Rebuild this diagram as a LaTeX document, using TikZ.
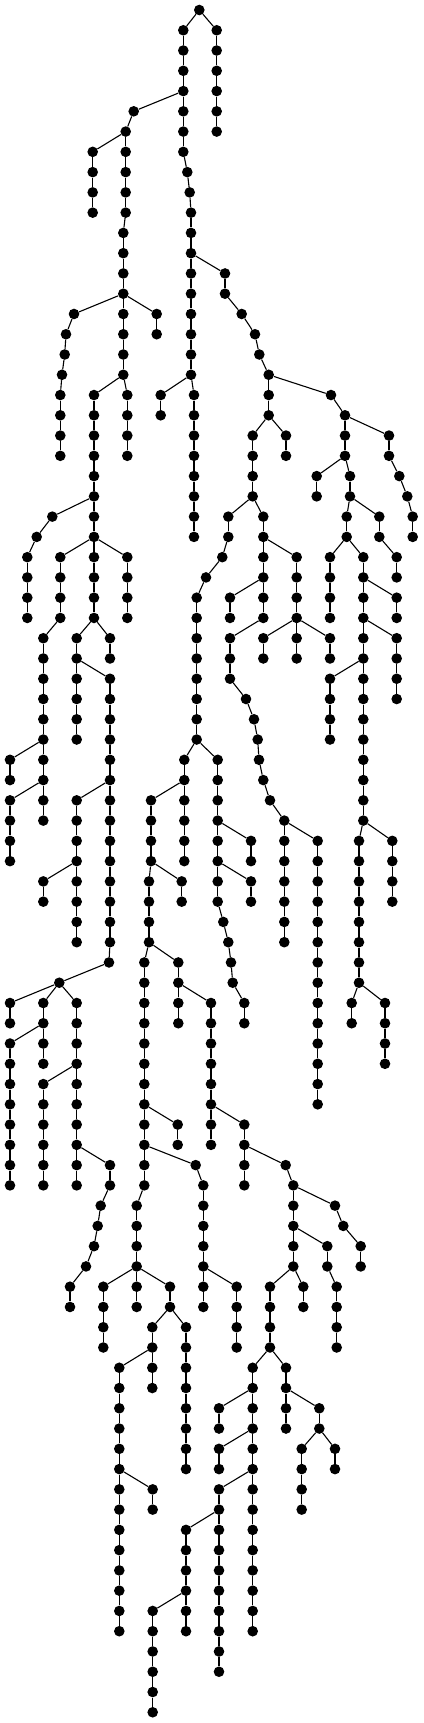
\documentclass[tikz,border=0pt]{standalone}
\usepackage{tikz}
\tikzset{
  v/.style={circle,fill=black,draw=none,minimum size=10.6pt,inner sep=0pt},
  e/.style={line width=1.1pt,black}
}
\newcommand\mychain[4]{%
  \foreach \r in {#3,...,#4}{\node[v] (#1-\r) at (#2,\r) {};}%
  \ifnum#3<#4\relax
    \pgfmathtruncatemacro\mylast{#4-1}%
    \foreach \r in {#3,...,\mylast}{\pgfmathtruncatemacro\mynext{\r+1}\draw[e] (#1-\r) -- (#1-\mynext);}%
  \fi}
\newcommand\myedge[2]{\draw[e] (#1) -- (#2);}
\begin{document}
\begin{tikzpicture}[x=1pt,y=-20.265pt]
\useasboundingbox (0,-0.4935) rectangle (423,84.53);
% top
\mychain{199}{199.3}{0}{0}
\mychain{217}{216.7}{1}{6}\myedge{199-0}{217-1}
\mychain{183}{183.3}{1}{7}\myedge{199-0}{183-1}
\mychain{134}{133.7}{5}{5}\myedge{183-4}{134-5}
\mychain{126}{125.7}{6}{10}\myedge{134-5}{126-6}
\mychain{93}{92.7}{7}{10}\myedge{126-6}{93-7}
\mychain{123}{123.3}{11}{18}\myedge{126-10}{123-11}
\mychain{187}{187.3}{8}{8}\myedge{183-7}{187-8}
\mychain{190}{189.7}{9}{9}\myedge{187-8}{190-9}
\mychain{191}{191}{10}{18}\myedge{190-9}{191-10}
\mychain{225}{225}{13}{14}\myedge{191-12}{225-13}
\mychain{74}{74}{15}{15}\myedge{123-14}{74-15}
\mychain{157}{156.7}{15}{16}\myedge{123-14}{157-15}
\mychain{66}{66}{16}{16}\myedge{74-15}{66-16}
\mychain{65}{64.7}{17}{17}\myedge{66-16}{65-17}
\mychain{62}{62}{18}{18}\myedge{65-17}{62-18}
\mychain{60}{60.3}{19}{22}\myedge{62-18}{60-19}
\mychain{94}{94}{19}{30}\myedge{123-18}{94-19}
\mychain{127}{127.3}{19}{22}\myedge{123-18}{127-19}
\mychain{161}{160.7}{19}{20}\myedge{191-18}{161-19}
\mychain{194}{194}{19}{26}\myedge{191-18}{194-19}
\mychain{242}{241.7}{15}{15}\myedge{225-14}{242-15}
\mychain{255}{255}{16}{16}\myedge{242-15}{255-16}
\mychain{259}{259.3}{17}{17}\myedge{255-16}{259-17}
\mychain{269}{268.7}{18}{20}\myedge{259-17}{269-18}
\mychain{331}{331}{19}{19}\myedge{269-18}{331-19}
\mychain{345}{345}{20}{22}\myedge{331-19}{345-20}
\mychain{253}{252.7}{21}{24}\myedge{269-20}{253-21}
\mychain{286}{286}{21}{22}\myedge{269-20}{286-21}
\mychain{389}{389}{21}{22}\myedge{345-20}{389-21}
\mychain{317}{316.7}{23}{24}\myedge{345-22}{317-23}
\mychain{350}{350}{23}{24}\myedge{345-22}{350-23}
\mychain{399}{399.3}{23}{23}\myedge{389-22}{399-23}
\mychain{407}{407.3}{24}{24}\myedge{399-23}{407-24}
\mychain{413}{412.7}{25}{26}\myedge{407-24}{413-25}
\mychain{52}{52.3}{25}{25}\myedge{94-24}{52-25}
\mychain{37}{36.7}{26}{26}\myedge{52-25}{37-26}
\mychain{27}{27.3}{27}{30}\myedge{37-26}{27-27}
\mychain{60}{60.3}{27}{30}\myedge{94-26}{60-27}
\mychain{127}{127.3}{27}{30}\myedge{94-26}{127-27}
\mychain{228}{228.3}{25}{26}\myedge{253-24}{228-25}
\mychain{263}{263.3}{25}{30}\myedge{253-24}{263-25}
\mychain{222}{222.3}{27}{27}\myedge{228-26}{222-27}
\mychain{206}{206}{28}{28}\myedge{222-27}{206-28}
\mychain{197}{196.7}{29}{36}\myedge{206-28}{197-29}
\mychain{297}{296.7}{27}{32}\myedge{263-26}{297-27}
\mychain{347}{346.7}{25}{26}\myedge{350-24}{347-25}
\mychain{379}{379.3}{25}{26}\myedge{350-24}{379-25}
\mychain{330}{330}{27}{30}\myedge{347-26}{330-27}
\mychain{363}{363.3}{27}{40}\myedge{347-26}{363-27}
\mychain{397}{396.7}{27}{28}\myedge{379-26}{397-27}
\mychain{397}{396.7}{29}{30}\myedge{363-28}{397-29}
\mychain{397}{396.7}{31}{34}\myedge{363-30}{397-31}
\mychain{230}{230}{29}{30}\myedge{263-28}{230-29}
\mychain{230}{230}{31}{33}\myedge{263-30}{230-31}
\mychain{263}{263.3}{31}{32}\myedge{297-30}{263-31}
\mychain{330}{330}{31}{32}\myedge{297-30}{330-31}
\mychain{330}{330}{33}{36}\myedge{363-32}{330-33}
\mychain{246}{246}{34}{34}\myedge{230-33}{246-34}
\mychain{254}{254}{35}{35}\myedge{246-34}{254-35}
\mychain{258}{257.7}{36}{36}\myedge{254-35}{258-36}
\mychain{259}{259}{37}{37}\myedge{258-36}{259-37}
\mychain{263}{263.3}{38}{38}\myedge{259-37}{263-38}
\mychain{270}{270}{39}{39}\myedge{263-38}{270-39}
\mychain{284}{284.3}{40}{46}\myedge{270-39}{284-40}
\mychain{318}{317.7}{41}{54}\myedge{284-40}{318-41}
\mychain{359}{359}{41}{48}\myedge{363-40}{359-41}
\mychain{392}{392.3}{41}{44}\myedge{363-40}{392-41}
\mychain{352}{351.7}{49}{50}\myedge{359-48}{352-49}
\mychain{385}{385}{49}{52}\myedge{359-48}{385-49}
% left
\mychain{43}{43.3}{31}{40}\myedge{60-30}{43-31}
\mychain{10}{10}{37}{38}\myedge{43-36}{10-37}
\mychain{10}{10}{39}{42}\myedge{43-38}{10-39}
\mychain{77}{76.7}{31}{36}\myedge{94-30}{77-31}
\mychain{110}{110}{31}{32}\myedge{94-30}{110-31}
\mychain{110}{110}{33}{46}\myedge{77-32}{110-33}
\mychain{77}{76.7}{39}{46}\myedge{110-38}{77-39}
\mychain{43}{43.3}{43}{44}\myedge{77-42}{43-43}
\mychain{109}{109}{47}{47}\myedge{110-46}{109-47}
\mychain{59}{59.3}{48}{48}\myedge{109-47}{59-48}
\mychain{10}{10}{49}{50}\myedge{59-48}{10-49}
\mychain{43}{43.3}{49}{52}\myedge{59-48}{43-49}
\mychain{77}{76.7}{49}{58}\myedge{59-48}{77-49}
\mychain{10}{10}{51}{58}\myedge{43-50}{10-51}
\mychain{43}{43.3}{53}{58}\myedge{77-52}{43-53}
\mychain{110}{110}{57}{58}\myedge{77-56}{110-57}
\mychain{101}{100.7}{59}{59}\myedge{110-58}{101-59}
\mychain{98}{97.7}{60}{60}\myedge{101-59}{98-60}
\mychain{94}{94}{61}{61}\myedge{98-60}{94-61}
\mychain{86}{86}{62}{62}\myedge{94-61}{86-62}
\mychain{70}{70}{63}{64}\myedge{86-62}{70-63}
% middle
\mychain{184}{184.3}{37}{42}\myedge{197-36}{184-37}
\mychain{218}{217.7}{37}{44}\myedge{197-36}{218-37}
\mychain{151}{151}{39}{42}\myedge{184-38}{151-39}
\mychain{251}{251}{41}{42}\myedge{218-40}{251-41}
\mychain{251}{251}{43}{44}\myedge{218-42}{251-43}
\mychain{149}{149}{43}{46}\myedge{151-42}{149-43}
\mychain{182}{181.7}{43}{44}\myedge{151-42}{182-43}
\mychain{223}{223.3}{45}{45}\myedge{218-44}{223-45}
\mychain{228}{228.3}{46}{46}\myedge{223-45}{228-46}
\mychain{231}{231}{47}{47}\myedge{228-46}{231-47}
\mychain{233}{232.7}{48}{48}\myedge{231-47}{233-48}
\mychain{244}{244.3}{49}{50}\myedge{233-48}{244-49}
\mychain{144}{144.3}{47}{58}\myedge{149-46}{144-47}
\mychain{178}{178.3}{47}{50}\myedge{149-46}{178-47}
\mychain{211}{211}{49}{56}\myedge{178-48}{211-49}
\mychain{178}{177.7}{55}{56}\myedge{144-54}{178-55}
\mychain{244}{244.3}{55}{58}\myedge{211-54}{244-55}
\mychain{286}{285.7}{57}{57}\myedge{244-56}{286-57}
\mychain{196}{195.7}{57}{57}\myedge{144-56}{196-57}
\mychain{203}{203.3}{58}{64}\myedge{196-57}{203-58}
\mychain{237}{236.7}{63}{66}\myedge{203-62}{237-63}
\mychain{137}{136.7}{59}{64}\myedge{144-58}{137-59}
\mychain{103}{103.3}{63}{66}\myedge{137-62}{103-63}
\mychain{170}{170}{63}{64}\myedge{137-62}{170-63}
\mychain{152}{152.3}{65}{68}\myedge{170-64}{152-65}
\mychain{186}{186}{65}{72}\myedge{170-64}{186-65}
\mychain{119}{119.3}{67}{80}\myedge{152-66}{119-67}
\mychain{153}{152.7}{73}{74}\myedge{119-72}{153-73}
\mychain{293}{293.3}{58}{62}\myedge{286-57}{293-58}
\mychain{335}{335}{59}{59}\myedge{293-58}{335-59}
\mychain{343}{343.3}{60}{60}\myedge{335-59}{343-60}
\mychain{361}{360.7}{61}{62}\myedge{343-60}{361-61}
\mychain{327}{327.3}{61}{62}\myedge{293-60}{327-61}
\mychain{337}{336.7}{63}{66}\myedge{327-62}{337-63}
\mychain{270}{270}{63}{66}\myedge{293-62}{270-63}
\mychain{303}{303.3}{63}{64}\myedge{293-62}{303-63}
\mychain{253}{252.7}{67}{80}\myedge{270-66}{253-67}
\mychain{286}{286}{67}{70}\myedge{270-66}{286-67}
\mychain{319}{319.3}{69}{70}\myedge{286-68}{319-69}
\mychain{302}{301.7}{71}{74}\myedge{319-70}{302-71}
\mychain{335}{335}{71}{72}\myedge{319-70}{335-71}
\mychain{219}{219}{69}{70}\myedge{253-68}{219-69}
\mychain{219}{219}{71}{72}\myedge{253-70}{219-71}
\mychain{219}{219}{73}{82}\myedge{253-72}{219-73}
\mychain{186}{186}{75}{80}\myedge{219-74}{186-75}
\mychain{153}{152.7}{79}{84}\myedge{186-78}{153-79}
\end{tikzpicture}
\end{document}
